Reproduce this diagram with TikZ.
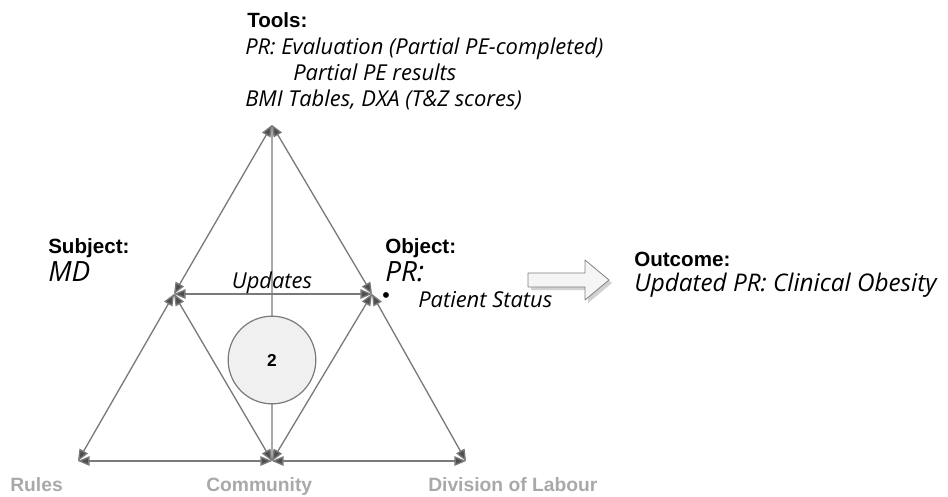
\documentclass[tikz,border=0pt]{standalone}
\usepackage{fontspec}
\setmainfont{Liberation Sans}
\newfontfamily\handfont{Open Sans}
\usepackage{tikz}
\usetikzlibrary{arrows}
\definecolor{edgegray}{HTML}{7A7A7A}
\definecolor{tipgray}{HTML}{4E4E4E}
\definecolor{labgray}{HTML}{A9A9A9}
\tikzset{
  edge/.style={draw=edgegray,line width=1pt,{<[fill=tipgray]}-{>[fill=tipgray]}},
  head/.style={font=\fontsize{15.5}{18}\selectfont\bfseries,anchor=base west,inner sep=0pt},
  hand/.style={font=\handfont\itshape\fontsize{16.5}{19}\selectfont,anchor=base west,inner sep=0pt},
  bighand/.style={font=\handfont\itshape\fontsize{21}{24}\selectfont,anchor=base west,inner sep=0pt},
  corner/.style={font=\fontsize{14.5}{17}\selectfont\bfseries,text=labgray,anchor=base west,inner sep=0pt}
}
\begin{document}
\begin{tikzpicture}[line cap=round,line join=round,>=triangle 45,x=0.02646cm,y=-0.02646cm]
\useasboundingbox (0,0) rectangle (948,496);
\coordinate (tool) at (272,125);
\coordinate (subj) at (174,294);
\coordinate (obj) at (372,294);
\coordinate (rule) at (78,461);
\coordinate (comm) at (272,461);
\coordinate (div) at (466,461);

\draw[draw=labgray,line width=0.9pt,<->] (tool) -- (comm);
\draw[edge] (subj) -- (tool);
\draw[edge] (obj) -- (tool);
\draw[edge] (subj) -- (obj);
\draw[edge] (rule) -- (subj);
\draw[edge] (comm) -- (subj);
\draw[edge] (comm) -- (obj);
\draw[edge] (div) -- (obj);
\draw[edge] (rule) -- (comm);
\draw[edge] (div) -- (comm);

\node[circle,draw=edgegray,fill=black!6,line width=0.9pt,minimum size=66,inner sep=0pt,font=\fontsize{13}{15}\selectfont\bfseries] (act) at (272,360) {2};

\node[head] (toolhead) at (247,27) {Tools:};
\node[hand] (tool1) at (245,54) {PR: Evaluation (Partial PE-completed)};
\node[hand] (tool2) at (293,80) {Partial PE results};
\node[hand] (tool3) at (245,106) {BMI Tables, DXA (T\&Z scores)};

\node[head] (subjhead) at (48,253) {Subject:};
\node[bighand] (subjtext) at (48,281) {MD};

\node[head] (objhead) at (385,253) {Object:};
\node[bighand] (objtext) at (385,281) {PR:};
\node[inner sep=0pt,font=\fontsize{16}{18}\selectfont] (bullet) at (386,298) {\textbullet};
\node[hand] (status) at (418,307) {Patient Status};

\node[hand,anchor=base] (upd) at (272,288) {Updates};

\fill[black!18] (531,276) -- (588,276) -- (588,263) -- (612,283) -- (588,303) -- (588,290) -- (531,290) -- cycle;
\draw[draw=gray,fill=black!4,line width=0.6pt] (528,273) -- (585,273) -- (585,260) -- (609,280) -- (585,300) -- (585,287) -- (528,287) -- cycle;

\node[head] (outhead) at (634,266) {Outcome:};
\node[hand,font=\handfont\itshape\fontsize{18.3}{21}\selectfont] (outtext) at (634,291) {Updated PR: Clinical Obesity};

\node[corner] (rulelab) at (10,491) {Rules};
\node[corner] (commlab) at (206,491) {Community};
\node[corner] (divlab) at (428,491) {Division of Labour};
\end{tikzpicture}
\end{document}
